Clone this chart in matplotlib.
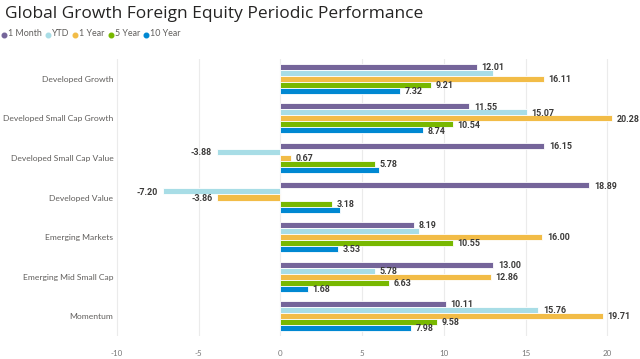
import matplotlib
matplotlib.use("Agg")
import matplotlib.pyplot as plt
from matplotlib.lines import Line2D
import numpy as np

categories = ["Developed Growth", "Developed Small Cap Growth", "Developed Small Cap Value",
              "Developed Value", "Emerging Markets", "Emerging Mid Small Cap", "Momentum"]
series_names = ["1 Month", "YTD", "1 Year", "5 Year", "10 Year"]
one_month = [12.01, 11.55, 16.15, 18.89, 8.19, 13.00, 10.11]
ytd = [13.02, 15.07, -3.88, -7.20, 8.47, 5.78, 15.76]
one_year = [16.11, 20.28, 0.67, -3.86, 16.00, 12.86, 19.71]
five_year = [9.21, 10.54, 5.78, 3.18, 10.55, 6.63, 9.58]
ten_year = [7.32, 8.74, 6.03, 3.62, 3.53, 1.68, 7.98]
# labels Power BI hid because of overlap: (series index, category index)
hidden_labels = [(1, 0), (4, 2), (4, 3), (1, 4)]
xticks = [-10, -5, 0, 5, 10, 15, 20]

colors = ["#75659A", "#A8DDE6", "#F2BC47", "#78B800", "#0088D2"]
series = [one_month, ytd, one_year, five_year, ten_year]

fig = plt.figure(figsize=(6.4, 3.59), dpi=100)
ax = fig.add_axes([105 / 640, 1 - 336 / 359, 530 / 640, 277 / 359])

n = len(series)
bh = 0.152
y = np.arange(len(categories))
lab_kw = dict(va="center", fontsize=6.4, color="#3B3A39", fontweight="bold", family="Roboto")
for i, (vals, col) in enumerate(zip(series, colors)):
    off = (i - (n - 1) / 2) * bh
    ypos = y + off
    ax.barh(ypos, vals, height=bh, color=col, edgecolor="white", linewidth=0.6, zorder=2)
    for j, v in enumerate(vals):
        if (i, j) in hidden_labels:
            continue
        if v >= 0:
            ax.annotate(f"{v:.2f}", (v, ypos[j]), xytext=(3.5, -0.5), textcoords="offset points",
                        ha="left", **lab_kw)
        else:
            ax.annotate(f"{v:.2f}", (v, ypos[j]), xytext=(-3.5, -0.5), textcoords="offset points",
                        ha="right", **lab_kw)

ax.set_ylim(len(categories) - 0.5, -0.5)
ax.set_xlim(-10.72, 21.69)
ax.set_yticks(y)
ax.set_yticklabels(categories, fontsize=6.1, color="#605E5C", family="Lato")
ax.set_xticks(xticks)
ax.set_xticklabels([str(t) for t in xticks], fontsize=5.8, color="#777777", family="Lato")
ax.tick_params(axis="both", length=0)
ax.tick_params(axis="x", pad=10)
ax.tick_params(axis="y", pad=-6)
ax.grid(axis="x", color="#EBEBEB", linewidth=0.8, zorder=0)
ax.set_axisbelow(True)
for s in ax.spines.values():
    s.set_visible(False)

fig.text(5 / 640, 1 - 14 / 359, "Global Growth Foreign Equity Periodic Performance",
         fontsize=12.5, color="#252423", family="Open Sans", va="center", ha="left")

# legend
lx = 4.0
fig.canvas.draw()
for name, col in zip(series_names, colors):
    fig.add_artist(Line2D([lx / 640], [1 - 34.5 / 359], marker="o", markersize=3.3, color=col,
                          linestyle="none", transform=fig.transFigure))
    t = fig.text((lx + 4.0) / 640, 1 - 34 / 359, name, color="#605E5C", fontsize=6.4, va="center",
                 ha="left", family="Lato")
    bb = t.get_window_extent(renderer=fig.canvas.get_renderer())
    lx = bb.x1 + 6

fig.savefig("out.png", dpi=100)
